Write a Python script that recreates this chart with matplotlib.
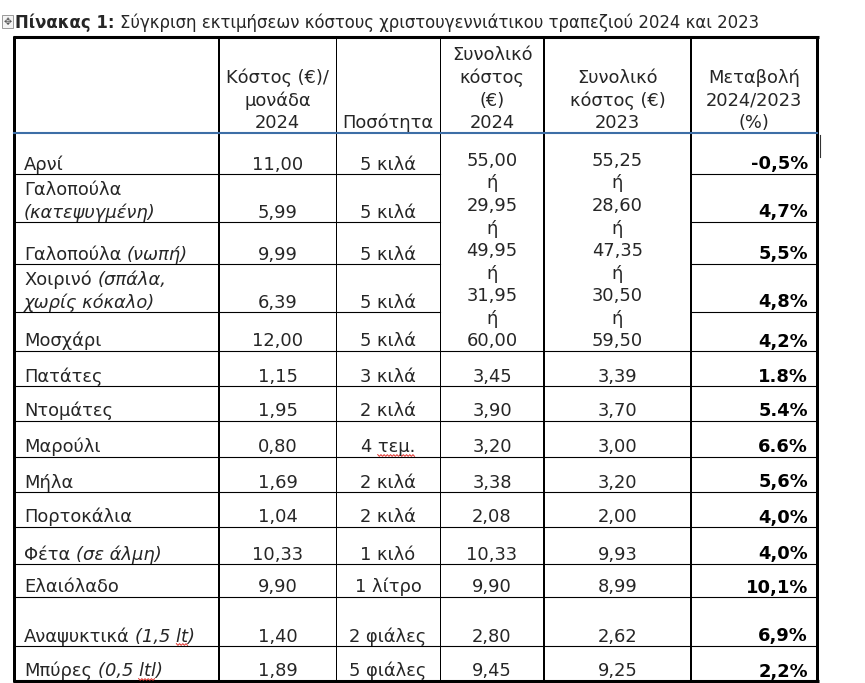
import numpy as np
import matplotlib
matplotlib.use("Agg")
import matplotlib.pyplot as plt

title_bold = "Πίνακας 1:"
title_rest = "Σύγκριση εκτιμήσεων κόστους χριστουγεννιάτικου τραπεζιού 2024 και 2023"

headers = [
    ["Κόστος (€)/", "μονάδα", "2024"],
    ["Ποσότητα"],
    ["Συνολικό", "κόστος", "(€)", "2024"],
    ["Συνολικό", "κόστος (€)", "2023"],
    ["Μεταβολή", "2024/2023", "(%)"],
]

items = ["Αρνί", "Γαλοπούλα", "Γαλοπούλα", "Χοιρινό", "Μοσχάρι", "Πατάτες", "Ντομάτες",
         "Μαρούλι", "Μήλα", "Πορτοκάλια", "Φέτα", "Ελαιόλαδο", "Αναψυκτικά", "Μπύρες"]
# italic notes, "\n" = continues on next line
notes = ["", "\n(κατεψυγμένη)", "(νωπή)", "(σπάλα,\nχωρίς κόκαλο)", "", "", "",
         "", "", "", "(σε άλμη)", "", "(1,5 lt)", "(0,5 ltl)"]
unit_cost = ["11,00", "5,99", "9,99", "6,39", "12,00", "1,15", "1,95",
             "0,80", "1,69", "1,04", "10,33", "9,90", "1,40", "1,89"]
quantity = ["5 κιλά", "5 κιλά", "5 κιλά", "5 κιλά", "5 κιλά", "3 κιλά", "2 κιλά",
            "4 τεμ.", "2 κιλά", "2 κιλά", "1 κιλό", "1 λίτρο", "2 φιάλες", "5 φιάλες"]
total_2024 = ["55,00", "29,95", "49,95", "31,95", "60,00", "3,45", "3,90",
              "3,20", "3,38", "2,08", "10,33", "9,90", "2,80", "9,45"]
total_2023 = ["55,25", "28,60", "47,35", "30,50", "59,50", "3,39", "3,70",
              "3,00", "3,20", "2,00", "9,93", "8,99", "2,62", "9,25"]
change = ["-0,5%", "4,7%", "5,5%", "4,8%", "4,2%", "1.8%", "5.4%",
          "6.6%", "5,6%", "4,0%", "4,0%", "10,1%", "6,9%", "2,2%"]
n_merged = 5  # first rows share one cell in the two total columns

# layout (pixels)
col_x = [14, 219, 336, 440, 544, 691, 817]
col_lw = [3, 2, 1, 1, 2, 2, 3]
top, head_bottom = 37, 132.7
row_bottom = [174, 222, 264, 312, 351, 386, 421, 457, 492, 527, 564, 597, 646, 681]
LH = 22.6
PAD = 4.5
FS = 12.9
FS_TITLE = 11.9
TXT = "#262626"
squiggle_words = {"(1,5 lt)": "lt", "(0,5 ltl)": "ltl", "4 τεμ.": "τεμ."}

plt.rcParams["font.family"] = ["DejaVu Sans"]
fig = plt.figure(figsize=(8.65, 6.83), dpi=100)
ax = fig.add_axes([0, 0, 1, 1])
ax.set_xlim(0, 865)
ax.set_ylim(683, 0)
ax.axis("off")
fig.canvas.draw()
rend = fig.canvas.get_renderer()


def width(s, fs=FS, **kw):
    t = ax.text(0, 0, s, fontsize=fs, **kw)
    w = t.get_window_extent(rend).width
    t.remove()
    return w


def squiggle(x0, x1, y):
    xs = np.arange(x0, x1 + 0.1, 1.6)
    ys = y + np.where(np.arange(len(xs)) % 2 == 0, -0.9, 0.9)
    ax.plot(xs, ys, color="#e0302a", lw=0.7, solid_joinstyle="miter")


def runs_line(x, y, runs, fs=FS):
    for i, (s, kw) in enumerate(runs):
        ax.text(x, y, s, fontsize=fs, color=TXT, va="baseline", ha="left", **kw)
        if s in squiggle_words:
            w = squiggle_words[s]
            pre = s[:s.rindex(w)]
            sx = x + width(pre + "|", fs, **kw) - width("|", fs, **kw)
            squiggle(sx, sx + width(w, fs, **kw), y + 3)
        x += width(s, fs, **kw)
        if i < len(runs) - 1:
            x += width("a a", fs, **kw) - width("aa", fs, **kw)


# title
ax.add_patch(plt.Rectangle((2, 15), 11, 13, fc="#f4f4f4", ec="#9a9a9a", lw=0.7))
ax.text(7.5, 22, "✥", fontsize=7, color="#555555", ha="center", va="center")
runs_line(15, 28, [(title_bold, {"fontweight": "bold"}), (title_rest, {})], fs=FS_TITLE)

# grid lines
for x, lw in zip(col_x, col_lw):
    ax.plot([x, x], [top - 1.2, row_bottom[-1] + 1.2], color="black", lw=lw * 0.72,
            solid_capstyle="butt")
ax.plot([col_x[0] - 1.5, col_x[-1] + 1.5], [top, top], color="black", lw=2.2,
        solid_capstyle="butt")
ax.plot([col_x[0] - 1.5, col_x[-1] + 1.5], [row_bottom[-1], row_bottom[-1]],
        color="black", lw=2.2, solid_capstyle="butt")
for i, yb in enumerate(row_bottom[:-1]):
    if i < n_merged - 1:
        ax.plot([col_x[0], col_x[3]], [yb, yb], color="black", lw=0.8)
        ax.plot([col_x[5], col_x[6]], [yb, yb], color="black", lw=0.8)
    else:
        ax.plot([col_x[0], col_x[6]], [yb, yb], color="black", lw=0.8)
ax.plot([col_x[0], col_x[6]], [head_bottom, head_bottom], color="#3d6ea6", lw=1.5)
ax.plot([820, 820], [135, 157], color="#333333", lw=0.8)

# header
for c, lines in enumerate(headers):
    xc = (col_x[c + 1] + col_x[c + 2]) / 2
    for k, s in enumerate(reversed(lines)):
        ax.text(xc, head_bottom - PAD - k * LH, s, fontsize=FS, color=TXT,
                ha="center", va="baseline")

# body
for i in range(len(items)):
    yb = row_bottom[i] - PAD
    parts = notes[i].split("\n") if notes[i] else [""]
    lines = [[(items[i], {})]]
    if parts[0]:
        lines[0].append((parts[0], {"style": "italic"}))
    for p in parts[1:]:
        lines.append([(p, {"style": "italic"})])
    for k, ln in enumerate(lines):
        runs_line(24, yb - (len(lines) - 1 - k) * LH, ln)

    xc = (col_x[1] + col_x[2]) / 2
    ax.text(xc, yb, unit_cost[i], fontsize=FS, color=TXT, ha="center", va="baseline")
    xc = (col_x[2] + col_x[3]) / 2
    ax.text(xc, yb, quantity[i], fontsize=FS, color=TXT, ha="center", va="baseline")
    if quantity[i] in squiggle_words:
        w = squiggle_words[quantity[i]]
        full = width(quantity[i])
        sx = xc + full / 2 - width(w)
        squiggle(sx, sx + width(w), yb + 3)
    ax.text(col_x[6] - 9, yb, change[i], fontsize=FS, color="black",
            fontweight="bold", ha="right", va="baseline")
    if i >= n_merged:
        ax.text((col_x[3] + col_x[4]) / 2, yb, total_2024[i], fontsize=FS, color=TXT,
                ha="center", va="baseline")
        ax.text((col_x[4] + col_x[5]) / 2, yb, total_2023[i], fontsize=FS, color=TXT,
                ha="center", va="baseline")

# merged total cells
for c, vals in ((3, total_2024), (4, total_2023)):
    stack = []
    for i in range(n_merged):
        stack.append(vals[i])
        if i < n_merged - 1:
            stack.append("ή")
    xc = (col_x[c] + col_x[c + 1]) / 2
    base = row_bottom[n_merged - 1] - PAD
    for k, s in enumerate(reversed(stack)):
        ax.text(xc, base - k * LH, s, fontsize=FS, color=TXT, ha="center", va="baseline")

fig.savefig("out.png", dpi=100, facecolor="white")
